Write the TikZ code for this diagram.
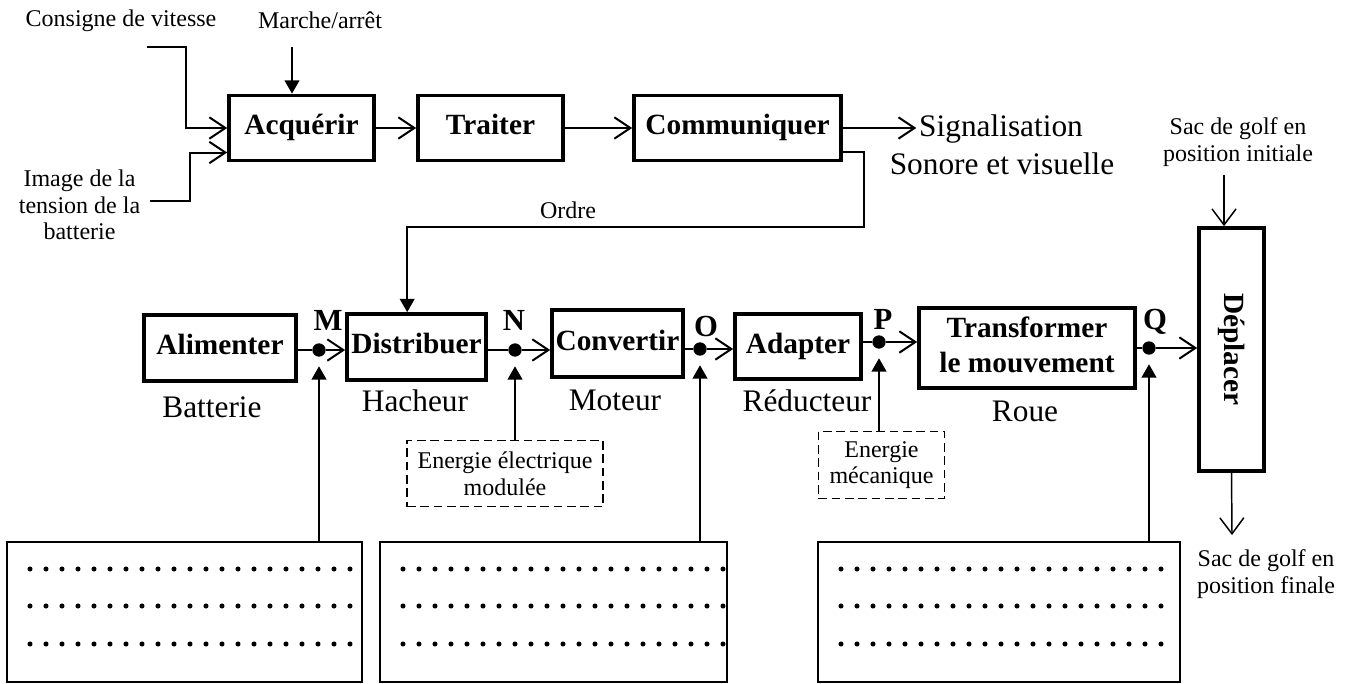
\documentclass[tikz,border=0pt]{standalone}
\usepackage{fontspec}
\setmainfont{Liberation Serif}
\usepackage{graphicx}
\usetikzlibrary{arrows.meta}

\begin{document}
\begin{tikzpicture}[x=0.75pt, y=-0.75pt,
  blk/.style = {draw, line width=2.8pt, inner sep=0pt, align=center,
    text height=15pt, text depth=5pt,
    font=\fontsize{22}{26}\selectfont\bfseries},
  lab/.style = {inner sep=0pt, font=\fontsize{23.5}{28}\selectfont},
  txt/.style = {inner sep=0pt, align=center, font=\fontsize{18}{20}\selectfont},
  pnt/.style = {inner sep=0pt, font=\fontsize{23}{27}\selectfont\bfseries},
  jn/.style = {circle, fill, inner sep=0pt, minimum size=10pt},
  dbox/.style = {draw, line width=0.8pt, dash pattern=on 6.5pt off 3.5pt,
    minimum height=50pt, inner sep=0pt, align=center,
    font=\fontsize{18}{20}\selectfont},
  rep/.style = {draw, line width=0.8pt, minimum height=105pt},
  wire/.style = {line width=1.5pt},
  flow/.style = {wire, -{Straight Barb[length=12pt, width=16pt]}},
  push/.style = {wire, -{Triangle[length=10pt, width=11pt]}},
  sac/.style = {line width=1.1pt, -{Straight Barb[length=12pt, width=18pt]}}]
  \useasboundingbox (0,0) rectangle (1351,683);

  \node[blk, minimum width=108.75pt, minimum height=48.75pt] (acq) at (301.5,128) {Acquérir};
  \node[blk, minimum width=108.75pt, minimum height=48.75pt] (trt) at (490.5,128) {Traiter};
  \node[blk, minimum width=155.25pt, minimum height=48.75pt] (com) at (737.5,128) {Communiquer};
  \node[lab] (sig) at (1001,129.5) {Signalisation};
  \node[lab] (son) at (1002,164) {Sonore et visuelle};

  \node[txt] (cons) at (121,21) {Consigne de vitesse};
  \node[txt] (mar) at (320,20) {Marche/arrêt};
  \node[txt] (img) at (79.5,205) {Image de la\\tension de la\\batterie};
  \coordinate (cin) at (147,47);
  \coordinate (iin) at (150,201);
  \coordinate (min) at (292,47);
  \draw[flow] (cin) -- ++(39,0) |- (acq.west);
  \draw[flow] (iin) -- ++(40,0) |- ([yshift=7.4pt]acq.south west);
  \draw[push] (min) -- (min |- acq.north);
  \draw[flow] (acq) -- (trt);
  \draw[flow] (trt) -- (com);
  \draw[flow, shorten >=2pt] (com.east) -- (sig.west |- com.east);

  \node[blk, minimum width=114pt, minimum height=49.5pt] (ali) at (220,348) {Alimenter};
  \node[blk, minimum width=104.25pt, minimum height=49.5pt] (dis) at (416.5,347) {Distribuer};
  \node[blk, minimum width=98.25pt, minimum height=50.25pt] (cnv) at (617.5,343.5) {Convertir};
  \node[blk, minimum width=94.5pt, minimum height=48.75pt] (ada) at (798,346.5) {Adapter};
  \node[blk, minimum width=162pt, minimum height=60pt, text height=41pt] (trf) at (1027,348) {Transformer\\le mouvement};
  \node[blk, minimum width=48.75pt, minimum height=182.25pt, text height=, text depth=] (dep) at (1231.5,349.5) {\rotatebox{-90}{Déplacer}};

  \node[lab] (bat) at (212,407.5) {Batterie};
  \node[lab] (hac) at (415,401) {Hacheur};
  \node[lab] (mot) at (615,400) {Moteur};
  \node[lab] (red) at (807,401) {Réducteur};
  \node[lab] (rou) at (1025,411.5) {Roue};

  \node[txt] (ord) at (568,210) {Ordre};
  \draw[push] ([yshift=7.8pt]com.south east) -- ++(21,0) -- ++(0,75) -| ([xshift=-7pt]dis.north);

  \node[jn] (M) at (319,350) {};
  \node[jn] (N) at (515,350) {};
  \node[jn] (O) at (700,349) {};
  \node[jn] (P) at (879,342) {};
  \node[jn] (Q) at (1149,348) {};
  \node[pnt] (lM) at (328,320) {M};
  \node[pnt] (lN) at (514,320) {N};
  \node[pnt] (lO) at (706,326) {O};
  \node[pnt] (lP) at (883,319) {P};
  \node[pnt] (lQ) at (1155,322) {Q};

  \draw[wire] (ali.east |- M) -- (M);
  \draw[flow] (M) -- (dis.west |- M);
  \draw[wire] (dis.east |- N) -- (N);
  \draw[flow] (N) -- (cnv.west |- N);
  \draw[wire] (cnv.east |- O) -- (O);
  \draw[flow] (O) -- (ada.west |- O);
  \draw[wire] (ada.east |- P) -- (P);
  \draw[flow] (P) -- (trf.west |- P);
  \draw[wire] (trf.east |- Q) -- (Q);
  \draw[flow] (Q) -- (dep.west |- Q);

  \node[dbox, minimum width=147pt] (e1) at (505,473.5) {Energie électrique\\modulée};
  \node[dbox, minimum width=95pt] (e2) at (881.5,465) {Energie\\mécanique};

  \node[rep, minimum width=266.25pt] (b1) at (184.5,612) {};
  \node[rep, minimum width=260.25pt] (b2) at (553.5,612) {};
  \node[rep, minimum width=271.5pt] (b3) at (999,612) {};
  \foreach \x in {30,403,841}
    \foreach \y in {569,606,644}
      \foreach \k in {0,...,20}
        \fill (\x+16*\k,\y) circle (1.9pt);

  \draw[push, shorten >=7pt] (b1.north -| M) -- (M);
  \draw[push, shorten >=7pt] (e1.north -| N) -- (N);
  \draw[push, shorten >=7pt] (b2.north -| O) -- (O);
  \draw[push, shorten >=7pt] (e2.north -| P) -- (P);
  \draw[push, shorten >=7pt] (b3.north -| Q) -- (Q);

  \node[txt] (sgi) at (1238,142) {Sac de golf en\\position initiale};
  \node[txt] (sgf) at (1266,574) {Sac de golf en\\position finale};
  \coordinate (sin) at (1224,175);
  \coordinate (sout) at (1232,535);
  \draw[sac] (sin) -- (sin |- dep.north);
  \draw[sac] (dep.south) -- (sout);
\end{tikzpicture}
\end{document}
